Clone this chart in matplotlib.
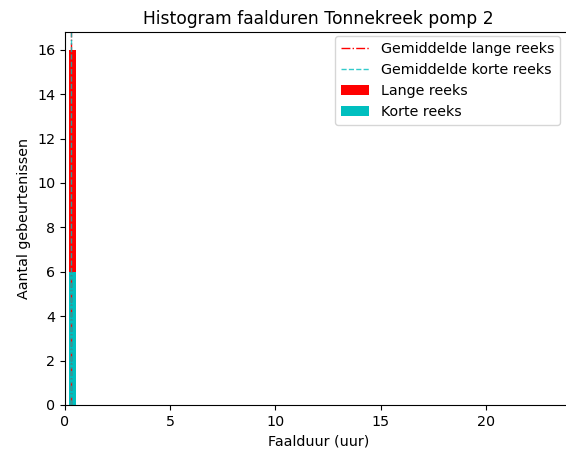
import matplotlib
matplotlib.use("Agg")
import matplotlib.pyplot as plt

plt.rcParams['font.size'] = 10.3

# Data
bin_edges = [0.17, 0.5]
lange_counts = [16]
korte_counts = [6]
mean_lange = 0.27
mean_korte = 0.27

fig = plt.figure(figsize=(5.66, 4.54), dpi=100)
ax = fig.add_axes([65/566, 49/454, (572-65)/566, (405-32)/454])

lefts = bin_edges[:-1]
widths = [bin_edges[i+1] - bin_edges[i] for i in range(len(bin_edges)-1)]
ax.bar(lefts, lange_counts, width=widths, align='edge', color='red', label='Lange reeks')
ax.bar(lefts, korte_counts, width=widths, align='edge', color='c', label='Korte reeks')
ax.axvline(mean_lange, color='red', linestyle='-.', linewidth=1, label='Gemiddelde lange reeks')
ax.axvline(mean_korte, color='c', linestyle='--', linewidth=1, label='Gemiddelde korte reeks', alpha=0.8)

ax.set_xlim(0, 24.1)
ax.set_ylim(0, 16.8)
ax.set_xticks([0, 5, 10, 15, 20])
ax.set_yticks(range(0, 17, 2))
ax.set_xlabel('Faalduur (uur)')
ax.set_ylabel('Aantal gebeurtenissen')
ax.set_title('Histogram faalduren Tonnekreek pomp 2')

ax.legend(loc='upper right', bbox_to_anchor=(567/566, (454-29)/454),
          bbox_transform=fig.transFigure)

fig.savefig('out.png', dpi=100)
